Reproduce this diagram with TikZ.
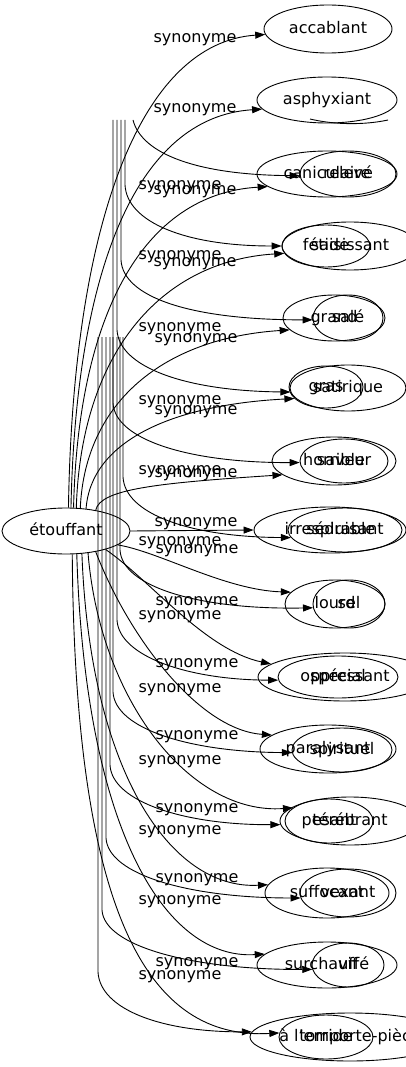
\documentclass[tikz,border=0pt]{standalone}
\usepackage{fontspec}
\setmainfont{DejaVu Sans}
\usetikzlibrary{shapes.geometric,arrows.meta}
\tikzset{
  syn/.style={ellipse, draw, line width=0.9pt, inner sep=0pt, text height=12pt, text depth=3.5pt, font=\fontsize{16pt}{19pt}\selectfont},
  lab/.style={inner sep=0pt, text height=12pt, text depth=3.5pt, font=\fontsize{16pt}{19pt}\selectfont},
  arr/.style={line width=0.9pt, -{Triangle[length=10pt,width=7pt]}},
  plain/.style={line width=0.9pt}
}
\newcommand{\nd}[6]{\node[syn, minimum width=#4pt, minimum height=#5pt] (#1) at (#2,#3) {\makebox[0pt]{#6}};}
\begin{document}
\begin{tikzpicture}[x=1pt,y=-1pt]
\useasboundingbox (0,0) rectangle (406,1067);
% source
\nd{E}{66}{531}{128}{46}{étouffant}
% targets
\nd{acc}{328}{29}{128}{48}{accablant}
\nd{asp}{327}{100}{140}{46}{asphyxiant}
\nd{can}{327}{174}{140}{46}{caniculaire}
\nd{rel}{348}{174}{96}{46}{relevé}
\nd{fet}{326}{246}{88}{42}{fétide}
\nd{sai}{350}{246}{136}{48}{saisissant}
\nd{gra}{334}{318}{102}{46}{grand}
\nd{sal}{348}{318}{70}{46}{salé}
\nd{grs}{326}{387}{74}{42}{gras}
\nd{sat}{348}{388}{116}{46}{satirique}
\nd{hor}{334}{461}{124}{48}{horrible}
\nd{sav}{344}{461}{88}{44}{saveur}
\nd{irr}{330}{530}{152}{46}{irrespirable}
\nd{sed}{345}{530}{114}{44}{séduisant}
\nd{lou}{335}{604}{100}{48}{lourd}
\nd{sel}{349}{604}{72}{48}{sel}
\nd{opp}{345}{677}{174}{48}{oppressant}
\nd{spe}{338}{677}{120}{42}{spécial}
\nd{par}{328}{749}{136}{48}{paralysant}
\nd{spi}{342}{750}{100}{44}{spirituel}
\nd{pes}{329}{821}{88}{44}{pesant}
\nd{ter}{350}{821}{140}{48}{térébrant}
\nd{suf}{327}{893}{124}{50}{suffocant}
\nd{vex}{348}{893}{96}{48}{vexant}
\nd{sur}{327}{965}{140}{46}{surchauffé}
\nd{vif}{348}{965}{72}{44}{vif}
\nd{tor}{326}{1037}{94}{44}{torride}
\nd{emp}{350}{1037}{200}{48}{à l'emporte-pièce}
% stray arc under asphyxiant
\draw[plain] (310,119) .. controls (335,125) and (365,125) .. (388,120);
% edges from étouffant
\draw[arr] (E.84) .. controls (73,224) and (140,43) .. (acc.185);
\draw[arr] (E.78) .. controls (76,269) and (137,117) .. (asp.188);
\draw[arr] (E.72) .. controls (78,315) and (143,194) .. (can.192);
\draw[arr] (E.66) .. controls (81,354) and (160,261) .. (fet.190);
\draw[arr] (E.58) .. controls (85,401) and (165,338) .. (gra.195);
\draw[arr] (E.48) .. controls (91,442) and (170,405) .. (grs.200);
\draw[arr] (E.35) .. controls (100,489) and (158,483) .. (hor.195);
\draw[arr] (E.0) -- (irr.180);
\draw[arr] (E.-15) .. controls (160,552) and (225,590) .. (lou.165);
\draw[arr] (E.-25) .. controls (150,580) and (205,650) .. (opp.170);
\draw[arr] (E.-35) .. controls (130,640) and (200,730) .. (par.166);
\draw[arr] (E.-45) .. controls (100,700) and (190,815) .. (pes.160);
\draw[arr] (E.-55) .. controls (90,770) and (170,890) .. (suf.172);
\draw[arr] (E.-65) .. controls (85,830) and (165,960) .. (sur.170);
\draw[arr] (E.-75) .. controls (75,920) and (150,1040) .. (tor.175);
% edges of the second group (source outside the picture)
\coordinate (g3) at (133,120);
\coordinate (g4) at (125,120);
\coordinate (g5) at (121,120);
\coordinate (g6) at (117,120);
\coordinate (g7) at (113,120);
\coordinate (g8) at (123,337);
\coordinate (g9) at (120,337);
\coordinate (g10) at (117,337);
\coordinate (g11) at (113,337);
\coordinate (g12) at (110,337);
\coordinate (g13) at (106,337);
\coordinate (g14) at (102,337);
\coordinate (g15) at (98,337);
\draw[arr] (g3) .. controls (142,155) and (200,175) .. (rel.182);
\draw[arr] (g4) -- (125,185) .. controls (127,222) and (185,246) .. (sai.180);
\draw[arr] (g5) -- (121,260) .. controls (123,297) and (190,320) .. (sal.183);
\draw[arr] (g6) -- (117,330) .. controls (119,367) and (185,391) .. (sat.184);
\draw[arr] (g7) -- (113,403) .. controls (115,440) and (190,463) .. (sav.182);
\draw[arr] (g8) -- (123,477) .. controls (125,514) and (190,537) .. (sed.188);
\draw[arr] (g9) -- (120,550) .. controls (122,587) and (200,610) .. (sel.186);
\draw[arr] (g10) -- (117,620) .. controls (119,657) and (190,680) .. (spe.183);
\draw[arr] (g11) -- (113,692) .. controls (115,729) and (190,752) .. (spi.183);
\draw[arr] (g12) -- (110,765) .. controls (112,802) and (185,825) .. (ter.183);
\draw[arr] (g13) -- (106,838) .. controls (108,875) and (190,898) .. (vex.186);
\draw[arr] (g14) -- (102,910) .. controls (104,947) and (195,970) .. (vif.187);
\draw[arr] (g15) -- (98,972) .. controls (100,1009) and (160,1032) .. (emp.177);
% labels of étouffant edges
\node[lab] (lb1) at (195,38) {synonyme};
\node[lab] (lb2) at (195,108) {synonyme};
\node[lab] (lb3) at (195,190) {synonyme};
\node[lab] (lb4) at (195,262) {synonyme};
\node[lab] (lb5) at (196,338) {synonyme};
\node[lab] (lb6) at (196,410) {synonyme};
\node[lab] (lb7) at (196,473) {synonyme};
\node[lab] (lb8) at (196,522) {synonyme};
\node[lab] (lb9) at (197,549) {synonyme};
\node[lab] (lb10) at (197,601) {synonyme};
\node[lab] (lb11) at (197,663) {synonyme};
\node[lab] (lb12) at (197,735) {synonyme};
\node[lab] (lb13) at (197,808) {synonyme};
\node[lab] (lb14) at (197,878) {synonyme};
\node[lab] (lb15) at (197,962) {synonyme};
% labels of the second group
\node[lab] (la3) at (180,185) {synonyme};
\node[lab] (la4) at (180,255) {synonyme};
\node[lab] (la5) at (180,327) {synonyme};
\node[lab] (la6) at (180,400) {synonyme};
\node[lab] (la7) at (180,470) {synonyme};
\node[lab] (la8) at (180,541) {synonyme};
\node[lab] (la9) at (180,615) {synonyme};
\node[lab] (la10) at (180,688) {synonyme};
\node[lab] (la11) at (180,760) {synonyme};
\node[lab] (la12) at (180,830) {synonyme};
\node[lab] (la13) at (180,900) {synonyme};
\node[lab] (la14) at (180,975) {synonyme};
\end{tikzpicture}
\end{document}
